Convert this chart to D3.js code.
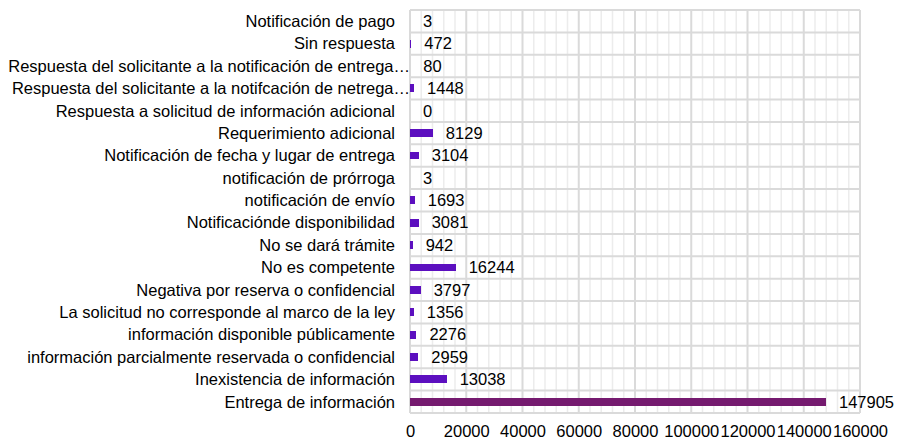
<!DOCTYPE html>
<html>
<head>
<meta charset="utf-8">
<script src="https://cdnjs.cloudflare.com/ajax/libs/d3/7.8.5/d3.min.js"></script>
<style>
  html, body { margin: 0; padding: 0; background: #fff; }
  svg { display: block; font-family: "Liberation Sans", Arial, sans-serif; }
</style>
</head>
<body>
<div id="chart"></div>
<script>
var categories = [
  "Notificación de pago",
  "Sin respuesta",
  "Respuesta del solicitante a la notificación de entrega…",
  "Respuesta del solicitante a la notifcación de netrega…",
  "Respuesta a solicitud de información adicional",
  "Requerimiento adicional",
  "Notificación de fecha y lugar de entrega",
  "notificación de prórroga",
  "notificación de envío",
  "Notificaciónde disponibilidad",
  "No se dará trámite",
  "No es competente",
  "Negativa por reserva o confidencial",
  "La solicitud no corresponde al marco de la ley",
  "información disponible públicamente",
  "información parcialmente reservada o confidencial",
  "Inexistencia de información",
  "Entrega de información"
];
var values = [3, 472, 80, 1448, 0, 8129, 3104, 3, 1693, 3081, 942, 16244, 3797, 1356, 2276, 2959, 13038, 147905];
var xTicks = [0, 20000, 40000, 60000, 80000, 100000, 120000, 140000, 160000];

var width = 897, height = 440;
var margin = { top: 10, right: 37, bottom: 27, left: 410 };
var fontSize = 16.5;

var svg = d3.select("#chart").append("svg")
  .attr("width", width)
  .attr("height", height);

var x = d3.scaleLinear()
  .domain([0, 160000])
  .range([margin.left, width - margin.right]);

var y = d3.scaleBand()
  .domain(categories)
  .range([margin.top, height - margin.bottom])
  .paddingInner(0.65)
  .paddingOuter(0.325);

var rowStep = (height - margin.bottom - margin.top) / categories.length;

// minor vertical grid
var minor = d3.range(0, 160000, 4000).filter(function(v) { return v % 20000 !== 0; });
svg.append("g").selectAll("line")
  .data(minor)
  .enter().append("line")
    .attr("x1", function(d) { return x(d); })
    .attr("x2", function(d) { return x(d); })
    .attr("y1", margin.top)
    .attr("y2", height - margin.bottom)
    .attr("stroke", "#ececec")
    .attr("stroke-width", 1.5);

// horizontal row lines
svg.append("g").selectAll("line")
  .data(d3.range(categories.length + 1))
  .enter().append("line")
    .attr("x1", margin.left)
    .attr("x2", width - margin.right)
    .attr("y1", function(i) { return margin.top + i * rowStep; })
    .attr("y2", function(i) { return margin.top + i * rowStep; })
    .attr("stroke", "#dadada")
    .attr("stroke-width", 2);

// major vertical grid
svg.append("g").selectAll("line")
  .data(xTicks)
  .enter().append("line")
    .attr("x1", function(d) { return x(d); })
    .attr("x2", function(d) { return x(d); })
    .attr("y1", margin.top)
    .attr("y2", height - margin.bottom)
    .attr("stroke", "#dadada")
    .attr("stroke-width", 2);

// bars
svg.append("g").selectAll("rect")
  .data(values)
  .enter().append("rect")
    .attr("x", x(0))
    .attr("y", function(d, i) { return y(categories[i]); })
    .attr("width", function(d) { return x(d) - x(0); })
    .attr("height", y.bandwidth())
    .attr("shape-rendering", "crispEdges")
    .attr("fill", function(d, i) { return i === values.length - 1 ? "#751a6f" : "#5c0fbf"; });

// value labels
svg.append("g").selectAll("text")
  .data(values)
  .enter().append("text")
    .attr("x", function(d) { return x(d) + 13; })
    .attr("y", function(d, i) { return y(categories[i]) + y.bandwidth() / 2; })
    .attr("dy", "0.35em")
    .attr("font-size", fontSize)
    .attr("fill", "#000")
    .text(function(d) { return d; });

// category labels
svg.append("g").selectAll("text")
  .data(categories)
  .enter().append("text")
    .attr("x", function(d) { return d.slice(-1) === "…" ? margin.left : margin.left - 15; })
    .attr("y", function(d) { return y(d) + y.bandwidth() / 2; })
    .attr("dy", "0.35em")
    .attr("text-anchor", "end")
    .attr("font-size", fontSize)
    .attr("fill", "#000")
    .text(function(d) { return d; });

// x axis labels
var xAxis = d3.axisBottom(x)
  .tickValues(xTicks)
  .tickSize(0)
  .tickPadding(0)
  .tickFormat(d3.format("d"));

var ax = svg.append("g")
  .attr("transform", "translate(0," + (height - margin.bottom + 12) + ")")
  .call(xAxis);
ax.select(".domain").remove();
ax.selectAll("text")
  .attr("font-size", fontSize)
  .attr("font-family", "Liberation Sans, Arial, sans-serif")
  .attr("fill", "#000");
</script>
</body>
</html>
